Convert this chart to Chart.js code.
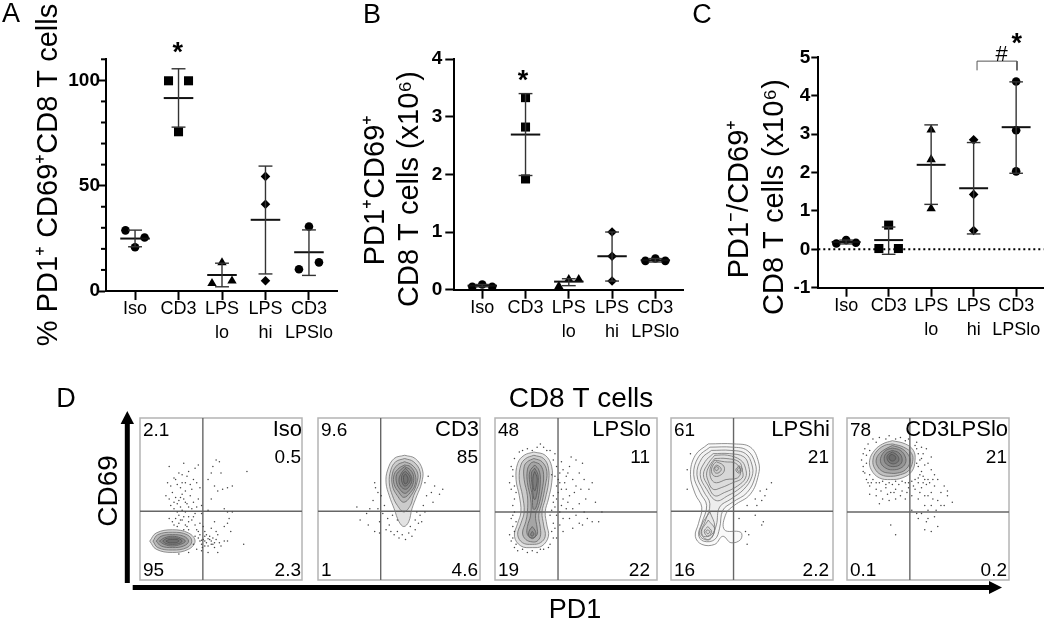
<!DOCTYPE html>
<html>
<head>
<meta charset="utf-8">
<title>PD1 CD69 CD8 T cells</title>
<script src="https://cdn.jsdelivr.net/npm/chart.js@4"></script>
<style>
  html, body { margin: 0; padding: 0; background: #fff; overflow: hidden; }
  canvas { position: absolute; }
</style>
</head>
<body>
<script>
// ---- panels A, B, C
const tickLabels = [['Iso'], ['CD3'], ['LPS', 'lo'], ['LPS', 'hi'], ['CD3', 'LPSlo']];
const pointStyles = ['circle', 'rect', 'triangle', 'rectRot', 'circle'];

const valuesA = [[28.8, 20.8, 25.4], [99.8, 99.8, 75.6], [3.6, 13.5, 4.8], [54.4, 41.2, 4.9], [30.6, 10.3, 13.6]];
const jitterA = [[-0.22, 0, 0.22], [-0.23, 0.23, 0], [-0.23, 0, 0.23], [0, 0, 0], [0, -0.23, 0.23]];
const meansA = [24.9, 91.6, 7.6, 33.8, 18.4];
const errHighA = [28.9, 105.5, 13.2, 59.3, 29];
const errLowA = [21, 77.8, 2, 8.1, 7.4];
const yTicksA = [0, 50, 100];
const yMinorA = [10, 20, 30, 40, 60, 70, 80, 90, 110];

const valuesB = [[0.05, 0.09, 0.05], [3.33, 2.82, 1.92], [0.06, 0.18, 0.18], [1.0, 0.58, 0.15], [0.5, 0.54, 0.5]];
const jitterB = [[-0.23, 0, 0.23], [0, 0, 0], [-0.23, 0, 0.23], [0, 0, 0], [-0.23, 0, 0.23]];
const meansB = [0.07, 2.69, 0.14, 0.58, 0.51];
const errHighB = [0.09, 3.4, 0.19, 1.0, 0.54];
const errLowB = [0.05, 1.98, 0.07, 0.15, 0.48];
const yTicksB = [0, 1, 2, 3, 4];

const valuesC = [[0.15, 0.24, 0.17], [0.02, 0.63, 0.02], [3.11, 2.34, 1.06], [2.85, 1.43, 0.49], [4.37, 3.1, 2.03]];
const jitterC = [[-0.23, 0, 0.23], [-0.23, 0, 0.23], [0, 0, 0], [0, 0, 0], [0, 0, 0]];
const meansC = [0.19, 0.24, 2.2, 1.59, 3.18];
const errHighC = [0.24, 0.58, 3.24, 2.78, 4.36];
const errLowC = [0.14, -0.13, 1.17, 0.4, 1.98];
const yTicksC = [-1, 0, 1, 2, 3, 4, 5];

// ---- panel D, flow plots. x and y are percent of the plot
const panelLabels = ['Iso', 'CD3', 'LPSlo', 'LPShi', 'CD3LPSlo'];
const upperLeft = ['2.1', '9.6', '48', '61', '78'];
const upperRight = ['0.5', '85', '11', '21', '21'];
const lowerLeft = ['95', '1', '19', '16', '0.1'];
const lowerRight = ['2.3', '4.6', '22', '2.2', '0.2'];
const gateX = [38.8, 38.7, 38.9, 38.6, 38.8];
const gateY = [42.4, 42.4, 42, 42.4, 42];

const isoRings = [
  [[6,24],[10,29],[20,31],[30,29],[34,24],[30,19],[20,17],[10,19]],
  [[8,24],[11,28],[20,29.5],[29,28],[32,24],[29,20],[20,18.5],[11,20]],
  [[10,24],[13,27],[20,28],[27,27],[30,24],[27,21],[20,20],[13,21]],
  [[12,24],[15,26],[20,27],[25,26],[28,24],[25,22],[20,21],[15,22]],
  [[14,24],[16,25.5],[20,26],[24,25.5],[26,24],[24,22.5],[20,22],[16,22.5]],
  [[16,24],[18,25],[20,25],[23,25],[24,24],[22,23],[20,23],[18,23]]
];
const isoDots = [[27,72],[26,65],[24,66],[18,70],[28,60],[30,67],[34,69],[36,71],[47,74],[49,73],[45,70],[44,66],[50,66],[66,67],
  [17,60],[19,58],[22,62],[25,57],[28,55],[31,59],[33,62],[35,60],[37,57],[42,62],[46,58],[51,56],[54,57],[57,58],
  [16,52],[18,50],[20,54],[22,51],[24,49],[26,53],[27,50],[29,47],[31,52],[33,48],[36,50],[38,46],[44,50],[48,55],[52,44],
  [19,46],[21,44],[23,47],[25,45],[26,43],[28,42],[30,45],[32,44],[34,41],[24,40],[38,41],[42,43],[54,42],[57,42],[55,38],
  [18,38],[20,36],[22,38],[24,35],[26,37],[28,34],[30,36],[32,37],[23,33],[27,31],[30,31],[34,34],[46,36],[52,33],[56,30],[54,35],
  [36,26],[37,24],[38,22],[39,25],[40,27],[41,23],[42,21],[43,25],[44,24],[45,22],[46,20],[47,25],[48,28],[49,23],[50,21],[52,24],
  [54,24],[40,30],[44,32],[47,30],[33,22],[35,19],[38,18],[42,17],[48,17],[64,22],[30,17],[24,16],
  [21,63],[23,59],[26,60],[29,64],[32,56],[25,51],[28,48],[21,48],[23,42],[27,39],[30,39],[25,37],[21,34],[29,33],[33,39],[35,45],
  [37,35],[39,33],[41,28],[36,30],[38,24.5],[40,24],[42,25.5],[44,22],[38.5,20],[40,21],[37,28],[43,27],[45,26],[46,23],[34,27],[35,31]];

const cd3Rings = [
  [[53.5,77],[60,75],[64.5,68],[64,60],[61,52],[58,44],[56,36],[53,33],[50,36],[47,44],[44,52],[42,60],[43,68],[47,75]],
  [[53.5,75],[59,73],[63,67],[62.5,60],[59,52],[57,46],[53,42],[49,46],[46,52],[44,60],[45,68],[48,73]],
  [[53.5,73],[58,71],[61.5,66],[61,60],[58,53],[53,48],[49,52],[46,58],[46,66],[49,71]],
  [[53.5,71],[57,70],[60,65],[60,59],[57,54],[53,51],[50,54],[47,59],[47,65],[50,69]],
  [[53.5,70],[57,68],[59,64],[58.5,59],[56,55],[53.5,53.5],[50.5,56],[48.5,60],[48.5,65],[51,68]],
  [[54,69],[56.5,66],[58,62],[56.5,58],[54,56],[51,58],[50,62],[51.5,66]],
  [[54,67],[56,65],[57,62],[55.5,59],[53.5,58],[52,60],[51.5,63],[52.5,66]],
  [[54,65.5],[55.5,63],[55,60],[53.5,59.5],[52.8,62],[53,64.5]]
];
const cd3Dots = [[35,60],[35.5,57],[37,54],[39,52],[34,49],[24,45],[32,44],[30,41],[26,37],[31,34],[35,30],[38,36],[41,46],[40,41],[43,38],
  [44,34],[45,30],[47,28],[49,30],[50,26],[52,28],[54,25],[56,29],[58,27],[60,31],[62,35],[63,40],[61,42],[65,46],[67,52],[70,54],[75,53],
  [77,56],[66,60],[68,64],[71,48],[46,40],[49,37],[57,33],[60,37],[64,36],[42,31],[38,29],[37,44],[66,42],[72,58]];

const lpsloRings = [
  [[24,79],[31,77],[35,70],[35,60],[33,50],[31,42],[32,34],[33,27],[29,21],[23,20],[16,21],[12,27],[14,35],[16,42],[15,52],[13,62],[14,72],[18,77]],
  [[24,77],[30,75],[33,69],[33,60],[31,50],[29,42],[30,34],[31,27],[28,23],[23,22],[17,23],[14,28],[16,35],[18,42],[17,52],[15,62],[16,71],[19,75]],
  [[24,75],[29,73],[32,67],[31,58],[29,48],[27,40],[28,32],[28,27],[26,24],[23,23.5],[19,25],[17,29],[19,36],[20,42],[20,52],[18,62],[18,70],[20,73]],
  [[24,73],[28,71],[30,65],[29,55],[27,46],[25,40],[26,32],[26,28],[23,26],[20,28],[20,33],[22,40],[22,50],[20,60],[20,68],[22,72]],
  [[24.5,71],[27,68],[28,62],[27,52],[25,44],[23.5,44],[23,52],[21.5,60],[21.5,67]],
  [[24.5,69],[26.5,65],[26.5,58],[25,50],[24,50],[23,58],[22.5,66]],
  [[24.5,67],[26,63],[25.5,58],[24.5,55],[23.5,58],[23.5,64]],
  [[23,33],[25,30],[25,27],[23,25.5],[21,27],[21,30]],
  [[23,30],[24,28.5],[23,27],[22,28]]
];
const lpsloDots = [[10,70],[11,64],[9,60],[10,56],[12,50],[11,46],[12,42],[10,38],[11,33],[9,28],[10,24],[12,20],[14,18],[20,17],[26,17],[30,19],
  [34,22],[35,30],[36,35],[34,40],[37,45],[36,52],[38,58],[37,64],[38,70],[36,74],[32,80],[26,82],[20,81],[15,79],[12,75],[28,84],[34,80],
  [40,60],[42,68],[44,64],[46,70],[48,62],[44,56],[42,50],[46,52],[50,58],[52,66],[54,72],[50,74],[47,76],[55,62],[58,56],[60,60],[56,50],
  [52,47],[48,44],[44,44],[40,42],[42,38],[46,38],[50,40],[55,42],[62,48],[66,42],[64,36],[60,36],[54,34],[48,32],[42,30],[38,26],[40,34],
  [35,65],[36,48],[39,54],[41,73],[52,35],[57,38],
  [11,68],[12,58],[13,54],[11,40],[13,36],[12,30],[11,26],[13,22],[17,19],[23,18],[28,19],[33,20],[36,26],[37,32],[35,43],[38,50],[39,62],
  [41,56],[43,60],[45,66],[40,66],[37,78],[30,82],[23,80],[17,80],[41,46],[45,48],[49,54],[53,56],[38,40]];

const lpshiRings = [
  [[23,84],[39,84],[49,82],[54,73],[54,65],[49,53],[39,46],[34,41],[33,31],[43,29.5],[43,25],[37,23],[32,27],[27,22],[19,22],[15,27],[17,35],[19,45],[15,53],[12,65],[15,77]],
  [[24,82],[38,82],[47,80],[52,72],[52,64],[47,54],[38,48],[32,43],[30,32],[27,25],[20,24],[17,28],[19,35],[22,46],[18,54],[14,65],[17,76]],
  [[25,80],[37,80],[46,78],[50,71],[50,64],[45,56],[37,50],[30,45],[28,34],[25,28],[20,27],[19,31],[21,36],[24,47],[20,55],[16,65],[19,75]],
  [[26,78],[36,78],[45,76],[48,70],[48,63],[43,57],[35,52],[28,49],[22,56],[18,65],[21,73]],
  [[27,77],[35,77],[43,74],[46,69],[46,63],[41,58],[33,54],[27,52],[23,58],[20,65],[23,72]],
  [[27,75],[34,75],[42,73],[44,68],[44,63],[38,60],[31,57],[26,56],[23,61],[22,66],[24,71]],
  [[27,74],[33,73],[40,72],[43,67],[41,63],[34,62],[28,60],[25,62],[24,67],[25,71]],
  [[28,73],[32,71],[33,68],[31,65],[27,64],[25,67],[26,71]],
  [[28,71],[30,70],[31,68],[29,66],[27,66.5],[26.5,69]],
  [[28,70],[29.5,69],[28,67.5],[27,69]],
  [[42,70.5],[44,68.5],[42,66],[40,68]],
  [[42,69.5],[43,68.5],[42,67],[41,68]],
  [[24,42],[27,33],[24,25],[18,27],[19,34]],
  [[23,37],[27,31],[23,25],[18.5,29]],
  [[22.7,33],[25,30],[22.7,27],[20.5,30]],
  [[22.7,31],[24,30],[22.7,28.5],[21.5,30]]
];
const lpshiDots = [[10,68],[12,78],[55,55],[59,56],[62,60],[58,52],[56,49],[52,50],[53,46],[47,46],[42,38],[52,40],[56,34],[57,36],[46,30],[48,28],[10,56],[47,22]];

const cd3lpsloRings = [
  [[28,86],[36,84],[41,80],[42,74],[40,67],[34,63],[27,62],[20,63],[15,68],[14,74],[17,80],[22,84]],
  [[28,84],[35,82],[40,78],[40.5,73],[38,67.5],[33,65],[27,64],[21,65],[17,69],[16,74],[18,79],[23,83]],
  [[28,83],[34,81],[38,77],[39,73],[36,68],[31,66],[26,66],[22,67],[19,70],[18,74],[20,78],[24,81]],
  [[28,81.5],[33,80],[36,76],[36,72],[33,69],[28,68],[24,69],[21,72],[21,76],[24,80]],
  [[28,80],[32,78.5],[34,75],[33,71.5],[29,70],[25,71],[23,74],[24,78]],
  [[28,79],[31,77],[32,74],[30,72],[27,72],[25,74],[25,77]],
  [[28,77.5],[30,76],[29.5,74],[27.5,73.5],[26,75],[26.5,77]]
];
const cd3lpsloDots = [[10,78],[9,74],[10,70],[11,66],[12,62],[10,67],[12,72],[11,81],[13,84],[16,87],[20,88],[26,89],[33,88],[38,87],[43,85],
  [46,82],[47,78],[45,74],[48,71],[46,67],[44,63],[48,62],[44,60],[40,61],[36,60],[32,59],[28,59],[24,59],[20,60],[16,62],[14,58],[18,56],
  [21,55],[24,57],[27,54],[30,56],[34,55],[38,57],[42,56],[46,57],[50,62],[52,68],[54,65],[50,72],[52,76],[49,81],[43,81],[54,58],[56,62],
  [60,58],[58,54],[52,54],[48,52],[44,50],[40,52],[36,50],[30,50],[26,49],[22,50],[48,46],[52,46],[56,49],[50,43],[55,43],[58,46],[62,52],
  [60,46],[50,38],[49,36],[54,39],[46,41],[44,38],[56,33],[52,30],[48,31],[27,34],[30,28],[43,41],[40,43],[62,55],[14,53],[18,52],[65,48],[20,47],
  [12,77],[14,65],[13,60],[15,60],[18,60],[22,61],[26,60],[30,61],[34,61],[38,60],[42,62],[45,65],[44,70],[46,75],[44,78],[42,83],[36,86],[30,87],
  [24,87],[18,85],[14,80],[43,72],[47,64],[49,59],[45,54],[41,58],[37,54],[33,52],[29,54],[25,53],[51,60],[53,62],[47,60],[50,52],[53,50]];

const panelRings = [isoRings, cd3Rings, lpsloRings, lpshiRings, cd3lpsloRings];
const panelDots = [isoDots, cd3Dots, lpsloDots, lpshiDots, cd3lpsloDots];

// ---- drawing
const FONT = '"Liberation Sans", Arial, sans-serif';
const toXY = ([x, y]) => ({ x, y });

function addCanvas(left, top, width, height) {
  const c = document.createElement('canvas');
  c.width = width;
  c.height = height;
  c.style.left = left + 'px';
  c.style.top = top + 'px';
  c.style.width = width + 'px';
  c.style.height = height + 'px';
  document.body.appendChild(c);
  return c;
}

// free text in page coordinates, for the things the axes can't do
function textPlugin(items) {
  return {
    id: 'pageText',
    afterDraw(chart) {
      const { ctx, canvas } = chart;
      const ox = parseFloat(canvas.style.left), oy = parseFloat(canvas.style.top);
      ctx.save();
      ctx.fillStyle = '#000';
      items.forEach(t => {
        ctx.save();
        ctx.translate(t.x - ox, t.y - oy);
        if (t.rotate) ctx.rotate(-Math.PI / 2);
        ctx.font = t.font;
        ctx.textAlign = t.align || 'center';
        ctx.textBaseline = t.baseline || 'alphabetic';
        ctx.fillText(t.text, 0, 0);
        ctx.restore();
      });
      ctx.restore();
    }
  };
}

function minorTickPlugin(values) {
  return {
    id: 'minorTicks',
    afterDraw(chart) {
      const { ctx, scales: { y } } = chart;
      ctx.save();
      ctx.strokeStyle = '#000';
      ctx.lineWidth = 2;
      values.forEach(v => {
        const py = y.getPixelForValue(v);
        ctx.beginPath();
        ctx.moveTo(y.right - 5, py);
        ctx.lineTo(y.right, py);
        ctx.stroke();
      });
      ctx.restore();
    }
  };
}

const seg = (x1, y1, x2, y2, color, width, extra) => Object.assign({
  data: [{ x: x1, y: y1 }, { x: x2, y: y2 }],
  showLine: true, borderColor: color, borderWidth: width, pointRadius: 0, clip: false
}, extra || {});

function buildDatasets(values, jitter, means, highs, lows) {
  const lines = [], points = [];
  values.forEach((vals, i) => {
    const g = i + 1;
    lines.push(seg(g, lows[i], g, highs[i], '#333', 1.4));
    lines.push(seg(g - 0.16, highs[i], g + 0.16, highs[i], '#333', 1.4));
    lines.push(seg(g - 0.16, lows[i], g + 0.16, lows[i], '#333', 1.4));
    lines.push(seg(g - 0.34, means[i], g + 0.34, means[i], '#111', 2));
    const style = pointStyles[i];
    points.push({
      data: vals.map((v, k) => ({ x: g + jitter[i][k], y: v })),
      pointStyle: style,
      pointRadius: style === 'rect' ? 6.4 : style === 'triangle' ? 5.4 : style === 'rectRot' ? 4.8 : 4.3,
      pointBackgroundColor: '#000', pointBorderWidth: 0, clip: false
    });
  });
  return lines.concat(points);
}

function dotPlot(cfg) {
  const canvas = addCanvas(cfg.left, 0, cfg.width, 350);
  new Chart(canvas, {
    type: 'scatter',
    data: { datasets: buildDatasets(cfg.values, cfg.jitter, cfg.means, cfg.highs, cfg.lows).concat(cfg.extra || []) },
    options: {
      responsive: false, animation: false,
      layout: { padding: { top: cfg.top, right: cfg.padRight, left: 0, bottom: 0 } },
      plugins: { legend: { display: false }, tooltip: { enabled: false } },
      scales: {
        x: {
          type: 'linear', min: cfg.xMin, max: cfg.xMax,
          afterBuildTicks: a => { a.ticks = tickLabels.map((_, i) => ({ value: i + 1 })); },
          afterFit: s => { s.height = 350 - cfg.bottom; },
          border: { color: '#000', width: 2 },
          grid: { drawOnChartArea: false, tickLength: 9, tickWidth: 2, tickColor: '#000' },
          ticks: {
            autoSkip: false, maxRotation: 0, minRotation: 0, padding: -3, color: '#000',
            font: { family: FONT, size: 18, lineHeight: 1.33 },
            callback: v => tickLabels[v - 1]
          }
        },
        y: {
          type: 'linear', min: cfg.yTicks[0], max: cfg.yMax,
          afterBuildTicks: a => { a.ticks = cfg.yTicks.map(value => ({ value })); },
          afterFit: s => { s.width = cfg.axisX; },
          border: { color: '#000', width: 2 },
          grid: { drawOnChartArea: false, tickLength: cfg.tickLen, tickWidth: 2, tickColor: '#000' },
          ticks: { padding: cfg.tickPad, color: '#000', font: { family: FONT, size: 19, weight: 'bold' } }
        }
      }
    },
    plugins: [textPlugin(cfg.texts), minorTickPlugin(cfg.minor || [])]
  });
}

const big = '29px ' + FONT, letter = '27px ' + FONT, star = 'bold 27px ' + FONT;

dotPlot({
  left: 0, width: 350, axisX: 106, padRight: 13, top: 59.3, bottom: 291, tickLen: 8, tickPad: -2,
  xMin: 0.332, xMax: 5.645, yMax: 110, yTicks: yTicksA, minor: yMinorA,
  values: valuesA, jitter: jitterA, means: meansA, highs: errHighA, lows: errLowA,
  texts: [
    { text: 'A', x: 11, y: 22, font: letter },
    { text: '% PD1⁺ CD69⁺CD8 T cells', x: 57, y: 175, font: big, rotate: true },
    { text: '*', x: 177.7, y: 61, font: star }
  ]
});

dotPlot({
  left: 350, width: 340, axisX: 104.3, padRight: 6, top: 59, bottom: 289.7, tickLen: 9, tickPad: 3,
  xMin: 0.354, xMax: 5.653, yMax: 4, yTicks: yTicksB,
  values: valuesB, jitter: jitterB, means: meansB, highs: errHighB, lows: errLowB,
  texts: [
    { text: 'B', x: 372, y: 23, font: letter },
    { text: 'PD1⁺CD69⁺', x: 384.3, y: 190, font: big, rotate: true },
    { text: 'CD8 T cells (x10⁶)', x: 418, y: 189, font: big, rotate: true },
    { text: '*', x: 523, y: 89, font: star }
  ]
});

dotPlot({
  left: 690, width: 360, axisX: 128.3, padRight: 2, top: 57.3, bottom: 287.7, tickLen: 7, tickPad: 1,
  xMin: 0.345, xMax: 5.646, yMax: 5, yTicks: yTicksC,
  values: valuesC, jitter: jitterC, means: meansC, highs: errHighC, lows: errLowC,
  extra: [
    seg(0.345, 0, 5.646, 0, '#000', 2, { borderDash: [2, 3] }),
    { data: [[4.08, 4.66], [4.08, 4.9], [5.02, 4.9], [5.02, 4.66]].map(toXY), showLine: true,
      borderColor: '#555', borderWidth: 1, pointRadius: 0, clip: false }
  ],
  texts: [
    { text: 'C', x: 702, y: 23, font: letter },
    { text: 'PD1⁻/CD69⁺', x: 748.3, y: 199, font: big, rotate: true },
    { text: 'CD8 T cells (x10⁶)', x: 783, y: 197, font: big, rotate: true },
    { text: '*', x: 1016.7, y: 52, font: star },
    { text: '#', x: 1001.7, y: 61, font: '22px ' + FONT }
  ]
});

// frame for panel D: arrows and the outer labels
const arrowPlugin = {
  id: 'arrows',
  afterDraw(chart) {
    const { ctx } = chart;
    const oy = 380;
    ctx.save();
    ctx.fillStyle = '#000';
    ctx.fillRect(124.8, 420 - oy, 5, 163);
    ctx.beginPath();
    ctx.moveTo(127.3, 411 - oy); ctx.lineTo(134, 424 - oy); ctx.lineTo(120.6, 424 - oy);
    ctx.fill();
    ctx.fillRect(132.7, 585 - oy, 858, 5);
    ctx.beginPath();
    ctx.moveTo(1002, 587.5 - oy); ctx.lineTo(989, 581 - oy); ctx.lineTo(989, 594 - oy);
    ctx.fill();
    ctx.restore();
  }
};

new Chart(addCanvas(0, 380, 1050, 241), {
  type: 'scatter',
  data: { datasets: [] },
  options: {
    responsive: false, animation: false,
    plugins: { legend: { display: false }, tooltip: { enabled: false } },
    scales: { x: { display: false }, y: { display: false } }
  },
  plugins: [arrowPlugin, textPlugin([
    { text: 'D', x: 66, y: 407, font: '27px ' + FONT },
    { text: 'CD8 T cells', x: 581, y: 407, font: '28px ' + FONT },
    { text: 'CD69', x: 116.7, y: 491, font: '28px ' + FONT, rotate: true },
    { text: 'PD1', x: 575, y: 618, font: '27px ' + FONT }
  ])]
});

// panel D plots
const panelLeft = [138.3, 315.7, 492.7, 669, 845.3];
const panelPadRight = [3, 4, 9, 6, 4];
const panelShade = [0.2, 0.14, 0.14, 0.03, 0.18];
const panelTop = 415.7, panelSize = 166, margin = 2;

panelLabels.forEach((label, i) => {
  const left = panelLeft[i], right = left + panelSize, pr = right - panelPadRight[i];
  const small = '19px ' + FONT, mid = '22px ' + FONT;
  const rings = panelRings[i].map(r => ({
    data: r.concat([r[0]]).map(toXY), showLine: true, tension: 0.4,
    fill: 'shape', backgroundColor: `rgba(60,60,60,${panelShade[i]})`,
    borderColor: '#777', borderWidth: 0.8, pointRadius: 0
  }));
  const gates = [
    seg(gateX[i], 0, gateX[i], 100, '#666', 1.4),
    seg(0, gateY[i], 100, gateY[i], '#666', 1.4)
  ];
  const dots = {
    data: panelDots[i].map(toXY), pointRadius: 0.75,
    pointBackgroundColor: '#444', pointBorderWidth: 0
  };
  const frame = {
    id: 'frame',
    beforeDatasetsDraw(chart) {
      const { ctx, chartArea: a } = chart;
      ctx.save();
      ctx.strokeStyle = '#b4b4b4';
      ctx.lineWidth = 1.5;
      ctx.strokeRect(a.left, a.top, a.right - a.left, a.bottom - a.top);
      ctx.restore();
    }
  };
  new Chart(addCanvas(left - margin, panelTop - margin, panelSize + 2 * margin, panelSize + 2 * margin), {
    type: 'scatter',
    data: { datasets: [dots, ...rings, ...gates] },
    options: {
      responsive: false, animation: false,
      layout: { padding: margin },
      plugins: { legend: { display: false }, tooltip: { enabled: false } },
      scales: {
        x: { type: 'linear', min: 0, max: 100, display: false },
        y: { type: 'linear', min: 0, max: 100, display: false }
      }
    },
    plugins: [frame, textPlugin([
      { text: label, x: pr + 1, y: panelTop + 14, font: mid, align: 'right', baseline: 'middle' },
      { text: upperLeft[i], x: left + 5, y: panelTop + 15, font: small, align: 'left', baseline: 'middle' },
      { text: upperRight[i], x: pr, y: panelTop + 42, font: small, align: 'right', baseline: 'middle' },
      { text: lowerLeft[i], x: left + 5, y: panelTop + 155, font: small, align: 'left', baseline: 'middle' },
      { text: lowerRight[i], x: pr, y: panelTop + 155, font: small, align: 'right', baseline: 'middle' }
    ])]
  });
});
</script>
</body>
</html>
